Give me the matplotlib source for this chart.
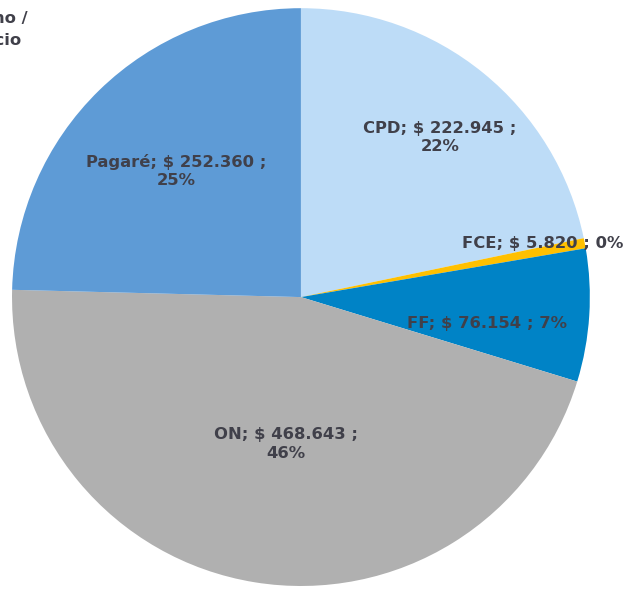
import matplotlib.pyplot as plt

# datos del gráfico
categorias = ["CPD", "FCE", "FF", "ON", "Pagaré"]
montos = [222945, 5820, 76154, 468643, 252360]
montos_txt = ["222.945", "5.820", "76.154", "468.643", "252.360"]
porcentajes = ["22%", "0%", "7%", "46%", "25%"]
colores = ["#BDDCF7", "#FFC000", "#0083C6", "#B0B0B0", "#5E9BD6"]

plt.rcParams['font.family'] = ['DejaVu Sans']

fig = plt.figure(figsize=(6.35, 5.89), dpi=100)
ax = fig.add_axes([0.0189, 0.0051, 0.910, 0.981])

ax.pie(montos, colors=colores, startangle=90, counterclock=False,
       radius=1, wedgeprops=dict(linewidth=0))
ax.set_xlim(-1, 1)
ax.set_ylim(-1, 1)
ax.set_aspect('equal')
ax.axis('off')

# posición de las etiquetas (x, y, una línea?)
pos = [(0.481, 0.552, False), (0.837, 0.187, True), (0.644, -0.093, True),
       (-0.052, -0.509, False), (-0.433, 0.436, False)]
color_txt = "#40404A"
for cat, m, p, (x, y, una) in zip(categorias, montos_txt, porcentajes, pos):
    if una:
        s = f"{cat}; $ {m} ; {p}"
    else:
        s = f"{cat}; $ {m} ;\n{p}"
    ax.text(x, y, s, ha='center', va='center', fontsize=11.8, fontweight='bold',
            color=color_txt, linespacing=1.3)

# título cortado arriba a la izquierda
fig.text(28 / 635, 1 - 18 / 589, "Financiamiento PyME en el mercado interno /", ha='right',
         va='center', fontsize=11.8, fontweight='bold', color=color_txt)
fig.text(22 / 635, 1 - 40 / 589, "Ejercicio", ha='right', va='center',
         fontsize=11.8, fontweight='bold', color=color_txt)

fig.savefig("out.png", dpi=100)
